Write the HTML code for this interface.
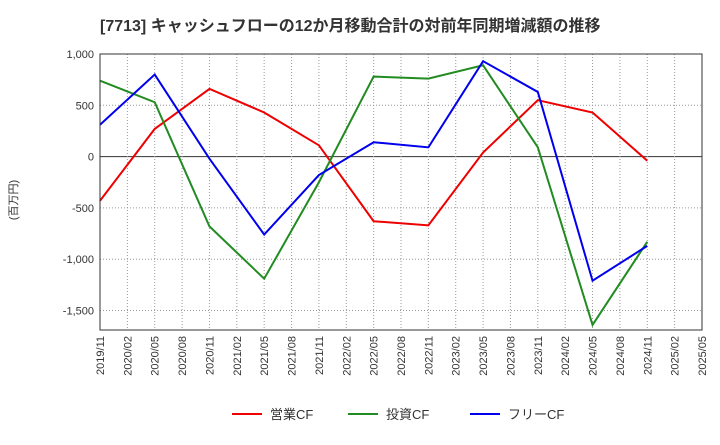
<!DOCTYPE html>
<html><head><meta charset="utf-8"><style>
body{margin:0;background:#fff;font-family:"Liberation Sans","Noto Sans CJK JP",sans-serif;}
</style></head><body>
<svg width="720" height="440" xmlns="http://www.w3.org/2000/svg" id="chart">
<text x="100" y="31" text-anchor="start" font-size="16" font-weight="bold" fill="#333" font-family="Liberation Sans, Noto Sans CJK JP, sans-serif">[7713]  キャッシュフローの12か月移動合計の対前年同期増減額の推移</text>
<text transform="translate(17,200) rotate(-90)" text-anchor="middle" font-size="11" fill="#333" font-family="Liberation Sans, Noto Sans CJK JP, sans-serif">(百万円)</text>
<g id="grid"></g><g id="axes"></g><g id="series"></g>
<rect x="100" y="54" width="602" height="276" fill="none" stroke="#333" stroke-width="1"/>
<g id="legend"></g>
</svg>
<script>
const xLabels=["2019/11","2020/02","2020/05","2020/08","2020/11","2021/02","2021/05","2021/08","2021/11","2022/02","2022/05","2022/08","2022/11","2023/02","2023/05","2023/08","2023/11","2024/02","2024/05","2024/08","2024/11","2025/02","2025/05"];
const yTicks=[1000,500,0,-500,-1000,-1500];
const pointIdx=[0,2,4,6,8,10,12,14,16,18,20];
const opCF=[-430,270,660,430,110,-630,-670,40,550,430,-40];
const invCF=[740,530,-680,-1190,-250,780,760,890,90,-1640,-830];
const freeCF=[310,800,-20,-760,-180,140,90,930,630,-1210,-870];
const seriesNames=["営業CF","投資CF","フリーCF"];
const colors=["#e00","#228b22","#00e"];
const NS="http://www.w3.org/2000/svg";
const x0=100,x1=702,y0=54,y1=330,vMax=1000,vMin=-1690;
const xs=i=>x0+(x1-x0)*i/(xLabels.length-1);
const ys=v=>y0+(vMax-v)/(vMax-vMin)*(y1-y0);
function mk(t,a,p){const e=document.createElementNS(NS,t);for(const k in a)e.setAttribute(k,a[k]);p.appendChild(e);return e;}
const grid=document.getElementById('grid'),axes=document.getElementById('axes');
yTicks.forEach(v=>{
 const l=mk('line',{x1:x0,x2:x1,y1:ys(v),y2:ys(v),stroke:v===0?'#333':'#999','stroke-dasharray':v===0?'':'1,2','stroke-width':1},grid);
 
 
 const t=mk('text',{x:x0-6,y:ys(v)+4,'text-anchor':'end','font-size':11,fill:'#333'},axes);
 t.textContent=v.toLocaleString('en-US');
 
 
});
xLabels.forEach((s,i)=>{
 const l=mk('line',{x1:xs(i),x2:xs(i),y1:y0,y2:y1,stroke:'#999','stroke-dasharray':'1,2'},grid);
 
 
 const t=mk('text',{transform:`translate(${xs(i)+4},${y1+6}) rotate(-90)`,'text-anchor':'end','font-size':11,fill:'#333'},axes);
 t.textContent=s;
 
 
});
const ser=document.getElementById('series');
[opCF,invCF,freeCF].forEach((d,k)=>{
 const p=mk('polyline',{points:d.map((v,i)=>xs(pointIdx[i])+','+ys(v)).join(' '),fill:'none',stroke:colors[k],'stroke-width':2},ser);
 
 
});
const lg=document.getElementById('legend');
const lx=[232,348,470];
seriesNames.forEach((n,k)=>{
 const l=mk('line',{x1:lx[k],x2:lx[k]+30,y1:414,y2:414,stroke:colors[k],'stroke-width':2},lg);
 
 
 const t=mk('text',{x:lx[k]+38,y:419,'font-size':13,fill:'#333'},lg);
 t.textContent=n;
 
 
});
</script>
</body></html>
